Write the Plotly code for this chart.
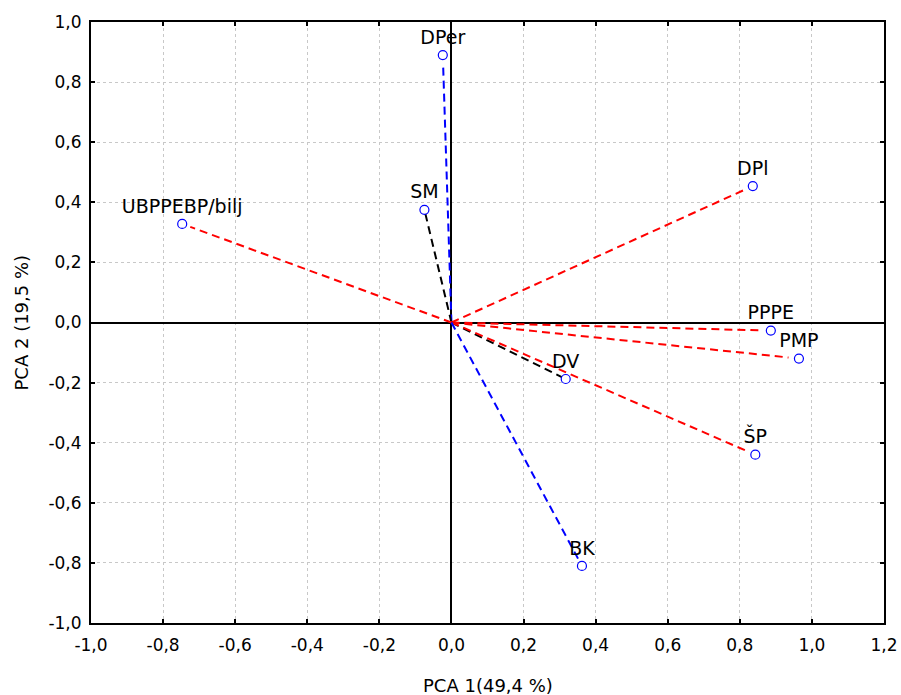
import plotly.graph_objects as go

labels = ["DPer", "SM", "UBPPEBP/bilj", "DPl", "PPPE", "PMP", "DV", "ŠP", "BK"]
pc1 = [-0.024, -0.075, -0.747, 0.836, 0.886, 0.964, 0.317, 0.843, 0.362]
pc2 = [0.890, 0.375, 0.328, 0.454, -0.027, -0.120, -0.188, -0.440, -0.810]
line_colors = ["blue", "black", "red", "red", "red", "red", "black", "red", "blue"]

x_ticks = [-1.0, -0.8, -0.6, -0.4, -0.2, 0.0, 0.2, 0.4, 0.6, 0.8, 1.0, 1.2]
x_ticktext = ["-1,0", "-0,8", "-0,6", "-0,4", "-0,2", "0,0", "0,2", "0,4", "0,6", "0,8", "1,0", "1,2"]
y_ticks = [-1.0, -0.8, -0.6, -0.4, -0.2, 0.0, 0.2, 0.4, 0.6, 0.8, 1.0]
y_ticktext = ["-1,0", "-0,8", "-0,6", "-0,4", "-0,2", "0,0", "0,2", "0,4", "0,6", "0,8", "1,0"]
x_title = "PCA 1(49,4 %)"
y_title = "PCA 2 (19,5 %)"

FONT = "DejaVu Sans"
fig = go.Figure()

# loading vectors from origin (stop slightly before the marker)
shrink = 0.97
for x, y, c in zip(pc1, pc2, line_colors):
    fig.add_trace(go.Scatter(
        x=[0, x * shrink], y=[0, y * shrink], mode="lines",
        line=dict(color=c, width=2, dash="8px,5px"),
        hoverinfo="skip", showlegend=False,
    ))

fig.add_trace(go.Scatter(
    x=pc1, y=pc2, mode="markers+text", text=labels,
    textposition="top center",
    textfont=dict(family=FONT, size=19, color="black"),
    marker=dict(symbol="circle", size=9, color="white",
                line=dict(color="blue", width=1.2)),
    showlegend=False,
))

axis_common = dict(
    showline=True, linecolor="black", linewidth=2, mirror="ticks",
    ticks="inside", ticklen=4, tickwidth=1.5, tickcolor="black",
    showgrid=True, gridcolor="#c8c8c8", gridwidth=1, griddash="dot",
    zeroline=True, zerolinecolor="black", zerolinewidth=2,
    tickfont=dict(family=FONT, size=17, color="black"),
    automargin=False,
)

fig.update_xaxes(range=[-1.0, 1.2], tickvals=x_ticks, ticktext=x_ticktext,
                 ticklabelstandoff=6, **axis_common)
fig.update_yaxes(range=[-1.0, 1.0], tickvals=y_ticks, ticktext=y_ticktext,
                 ticklabelstandoff=4, **axis_common)

fig.add_annotation(text=x_title, xref="paper", yref="paper", x=0.5, y=0,
                   xanchor="center", yanchor="middle", yshift=-62, showarrow=False,
                   font=dict(family=FONT, size=18, color="black"))
fig.add_annotation(text=y_title, xref="paper", yref="paper", x=0, y=0.5,
                   xanchor="center", yanchor="middle", xshift=-70, textangle=-90,
                   showarrow=False, font=dict(family=FONT, size=18, color="black"))

fig.update_layout(
    width=901, height=695,
    margin=dict(l=91, r=17, t=22, b=72),
    paper_bgcolor="white", plot_bgcolor="white",
    showlegend=False,
    font=dict(family=FONT, color="black"),
)

# remove the default page margin so the figure fills the 901x695 window exactly
fig.write_html("out.html",
               config={"displayModeBar": False},
               post_script="document.body.style.margin='0';document.body.style.overflow='hidden';")
